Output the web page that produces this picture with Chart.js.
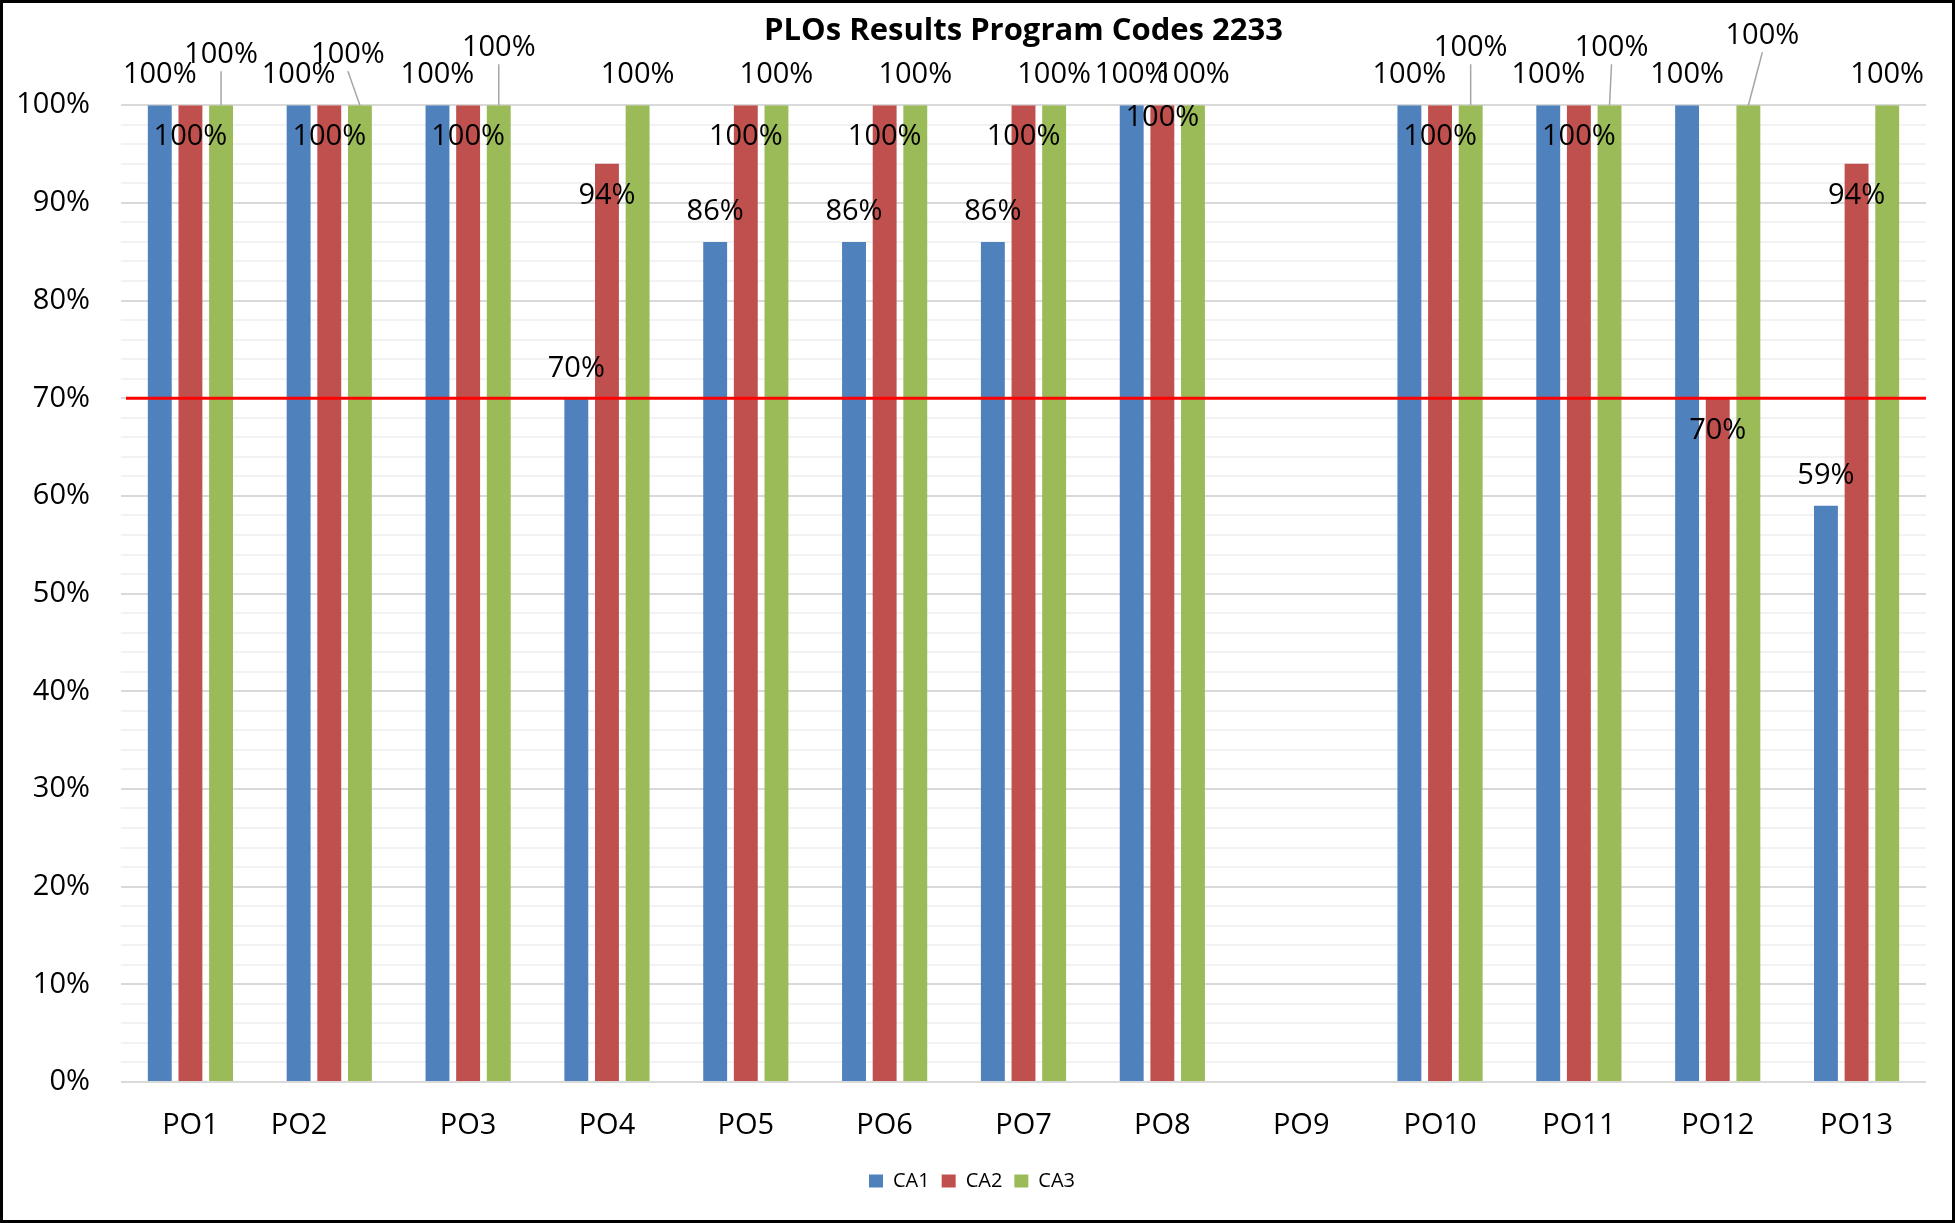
<!DOCTYPE html>
<html>
<head>
<meta charset="utf-8">
<title>PLOs Results Program Codes 2233</title>
<script src="https://cdn.jsdelivr.net/npm/chart.js@4.4.1/dist/chart.umd.min.js"></script>
<style>
  html, body { margin: 0; padding: 0; background: #fff; }
  #wrap { width: 1955px; height: 1223px; }
</style>
</head>
<body>
<div id="wrap"><canvas id="plo"></canvas></div>
<script>
// PO2 carries trailing spaces in the source sheet, so its label sits left of the bars
const categories = ["PO1", "PO2        ", "PO3", "PO4", "PO5", "PO6", "PO7", "PO8", "PO9", "PO10", "PO11", "PO12", "PO13"];
const ca1 = [100, 100, 100, 70, 86, 86, 86, 100, null, 100, 100, 100, 59];
const ca2 = [100, 100, 100, 94, 100, 100, 100, 100, null, 100, 100, 70, 94];
const ca3 = [100, 100, 100, 100, 100, 100, 100, 100, null, 100, 100, 100, 100];
const target = 70;

const FONT = "'Open Sans', 'Noto Sans', sans-serif";
Chart.defaults.font.family = FONT;
Chart.defaults.color = "#000";

// labels that were dragged by hand in the original: [dx, dy, leader line]
const labelMoves = {
  "2:0": [0, -20, true],
  "2:1": [-12, -20, true],
  "2:2": [0, -27, true],
  "2:9": [0, -27, true],
  "2:10": [2, -27, true],
  "2:11": [14, -39, true],
  "1:7": [0, -19, false]
};

const frame = {
  id: "frame",
  beforeDraw(chart) {
    const ctx = chart.ctx;
    ctx.save();
    ctx.fillStyle = "#fff";
    ctx.fillRect(0, 0, chart.width, chart.height);
    ctx.restore();
  },
  afterDraw(chart) {
    const ctx = chart.ctx;
    ctx.save();
    ctx.strokeStyle = "#000";
    ctx.lineWidth = 3;
    ctx.strokeRect(1.5, 1.5, chart.width - 3, chart.height - 3);
    ctx.restore();
  }
};

const targetLine = {
  id: "targetLine",
  afterDatasetsDraw(chart) {
    const { ctx, chartArea } = chart;
    const y = chart.scales.y.getPixelForValue(target);
    ctx.save();
    ctx.strokeStyle = "#ff0000";
    ctx.lineWidth = 3;
    ctx.beginPath();
    ctx.moveTo(chartArea.left + 5, y);
    ctx.lineTo(chartArea.right, y);
    ctx.stroke();
    ctx.restore();
  }
};

const barLabels = {
  id: "barLabels",
  afterDatasetsDraw(chart) {
    const ctx = chart.ctx;
    ctx.save();
    ctx.font = "29px " + FONT;
    ctx.fillStyle = "#000";
    ctx.textAlign = "center";
    ctx.textBaseline = "middle";
    chart.data.datasets.forEach((ds, di) => {
      chart.getDatasetMeta(di).data.forEach((bar, i) => {
        const v = ds.data[i];
        if (v == null) return;
        const move = labelMoves[di + ":" + i] || [0, 0, false];
        const x = bar.x + move[0];
        // CA2 labels sit inside the bar end, the others above it
        const y = (di === 1 ? bar.y + 32 : bar.y - 30) + move[1];
        if (move[2]) {
          ctx.strokeStyle = "#a6a6a6";
          ctx.lineWidth = 1.5;
          ctx.beginPath();
          ctx.moveTo(x, y + 16);
          ctx.lineTo(bar.x, bar.y);
          ctx.stroke();
        }
        ctx.fillText(v + "%", x, y);
      });
    });
    ctx.restore();
  }
};

new Chart(document.getElementById("plo"), {
  type: "bar",
  data: {
    labels: categories,
    datasets: [
      { label: "CA1", data: ca1, backgroundColor: "#4f81bd", borderWidth: 0 },
      { label: "CA2", data: ca2, backgroundColor: "#c0504d", borderWidth: 0 },
      { label: "CA3", data: ca3, backgroundColor: "#9bbb59", borderWidth: 0 }
    ]
  },
  options: {
    responsive: true,
    maintainAspectRatio: false,
    animation: false,
    devicePixelRatio: 1,
    categoryPercentage: 0.662,
    barPercentage: 0.78,
    layout: { padding: { left: 18, right: 29, top: 0, bottom: 22 } },
    plugins: {
      title: {
        display: true,
        text: "PLOs Results Program Codes 2233",
        fullSize: false,
        color: "#000",
        font: { size: 31, weight: "bold" },
        padding: { top: 13, bottom: 55 }
      },
      legend: {
        position: "bottom",
        labels: { boxWidth: 14, boxHeight: 13, padding: 12, color: "#000", font: { size: 20 } }
      },
      tooltip: { enabled: false }
    },
    scales: {
      x: {
        grid: { display: false, drawTicks: false },
        border: { display: false },
        ticks: { color: "#000", font: { size: 29 }, padding: 26, maxRotation: 0, autoSkip: false },
        afterFit: s => { s.height = 77; }
      },
      y: {
        min: 0,
        max: 100,
        border: { display: false },
        grid: {
          drawTicks: false,
          lineWidth: 2,
          color: c => (c.tick && c.tick.value % 10 === 0) ? "#d9d9d9" : "#f2f2f2"
        },
        ticks: {
          stepSize: 2,
          autoSkip: false,
          padding: 31,
          color: "#000",
          font: { size: 29 },
          callback: v => (v % 10 === 0 ? v + "%" : "")
        },
        afterFit: s => { s.width = 103; }
      }
    }
  },
  plugins: [frame, targetLine, barLabels]
});
</script>
</body>
</html>
